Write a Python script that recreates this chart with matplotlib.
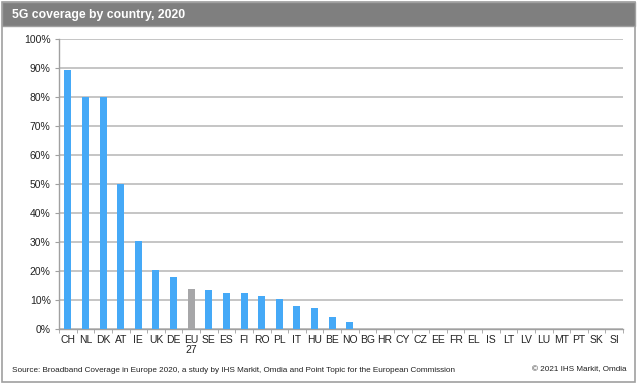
import numpy as np
import matplotlib.pyplot as plt
from matplotlib.patches import Rectangle

plt.rcParams['font.family'] = ['Liberation Sans', 'DejaVu Sans']

countries = ['CH', 'NL', 'DK', 'AT', 'IE', 'UK', 'DE', 'EU\n27', 'SE', 'ES', 'FI',
             'RO', 'PL', 'IT', 'HU', 'BE', 'NO', 'BG', 'HR', 'CY', 'CZ', 'EE',
             'FR', 'EL', 'IS', 'LT', 'LV', 'LU', 'MT', 'PT', 'SK', 'SI']
coverage = [89.3, 80.0, 80.0, 49.9, 30.4, 20.3, 17.8, 13.7, 13.5, 12.4, 12.3,
            11.5, 10.2, 7.9, 7.1, 4.2, 2.3, 0, 0, 0, 0, 0,
            0, 0, 0, 0, 0, 0, 0, 0, 0, 0]
highlight = 'EU\n27'

W, H = 642, 385
fig = plt.figure(figsize=(W / 100, H / 100), dpi=100)

# frame and title bar
fig.patches.append(Rectangle((2 / W, 3 / H), 633 / W, 380 / H, transform=fig.transFigure,
                             fill=False, edgecolor='#a0a0a0', linewidth=1.2))
fig.patches.append(Rectangle((2 / W, (H - 26) / H), 633 / W, 24 / H, transform=fig.transFigure,
                             facecolor='#7f7f7f', edgecolor='#a0a0a0', linewidth=1.0))
fig.text(12 / W, (H - 15) / H, '5G coverage by country, 2020', color='white',
         fontsize=8.8, fontweight='bold', va='center', ha='left')

ax = fig.add_axes([59 / W, (H - 329) / H, (623 - 59) / W, (329 - 39) / H])
x = np.arange(len(countries))
colors = ['#a6a6a8' if c == highlight else '#45a9f7' for c in countries]
ax.bar(x, coverage, width=0.4, color=colors, zorder=3)

ax.set_xlim(-0.5, len(countries) - 0.5)
ax.set_ylim(0, 100)
ax.set_yticks(np.arange(0, 101, 10))
ax.set_yticklabels([f'{v}%' for v in range(0, 101, 10)], fontsize=7.5, color='#222222')
ax.yaxis.grid(True, color='#c0c0c0', linewidth=1.3, zorder=0)
ax.set_xticks(x)
ax.set_xticklabels(countries, fontsize=7.5, color='#222222', linespacing=1.0)
ax.set_xticks(np.arange(-0.5, len(countries), 1), minor=True)
ax.tick_params(axis='x', which='major', length=0, pad=4)
ax.tick_params(axis='x', which='minor', length=3, color='#a0a0a0')
ax.tick_params(axis='y', length=3, color='#a0a0a0', pad=3)
for s in ['top', 'right']:
    ax.spines[s].set_visible(False)
for s in ['left', 'bottom']:
    ax.spines[s].set_color('#a0a0a0')
    ax.spines[s].set_linewidth(1.0)

fig.text(12 / W, (H - 370) / H,
         'Source: Broadband Coverage in Europe 2020, a study by IHS Markit, Omdia and Point Topic for the European Commission',
         fontsize=5.9, color='#222222', va='center', ha='left')
fig.text(627 / W, (H - 370) / H, '\u00a9 2021 IHS Markit, Omdia',
         fontsize=5.9, color='#222222', va='center', ha='right')

fig.savefig('out.png', dpi=100)
